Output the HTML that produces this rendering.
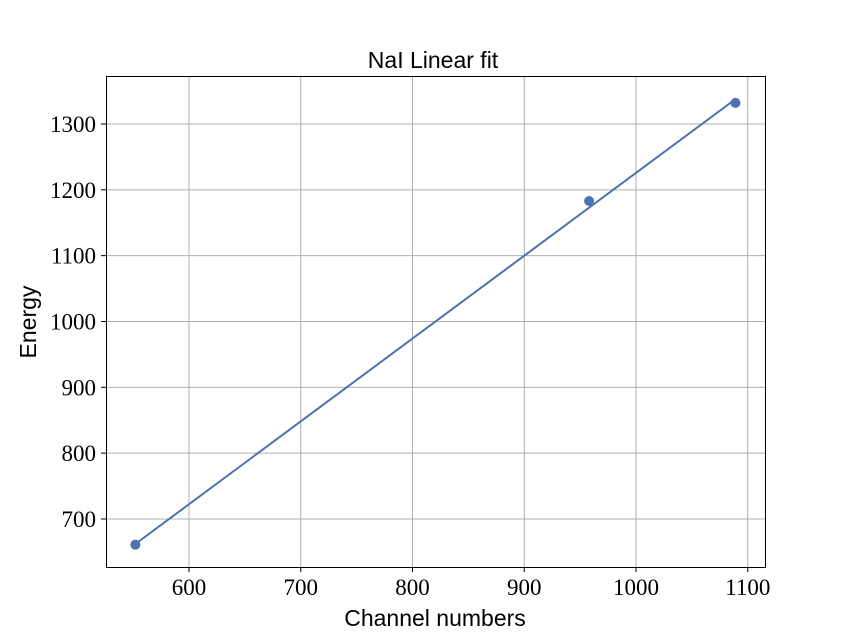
<!DOCTYPE html>
<html><head><meta charset="utf-8"><style>
body{margin:0;background:#fff;}
svg text{fill:#000;}
.tick{font-family:"Liberation Serif",serif;font-size:23px;}
.lab{font-family:"Liberation Sans",sans-serif;font-size:23px;}
</style></head><body>
<svg id="chart" width="850" height="637" xmlns="http://www.w3.org/2000/svg">
<g id="grid"></g>
<g id="ticks"></g>
<g id="series"></g>
<rect x="106.5" y="76.5" width="659" height="491" fill="none" stroke="#000" stroke-width="1"/>
<text class="lab" x="433" y="68" text-anchor="middle">NaI Linear fit</text>
<text class="lab" x="435" y="626" text-anchor="middle">Channel numbers</text>
<text class="lab" x="0" y="0" text-anchor="middle" transform="translate(36,322) rotate(-90)">Energy</text>
</svg>
<script>
const xTicks=[600,700,800,900,1000,1100];
const yTicks=[700,800,900,1000,1100,1200,1300];
const pointX=[552,958,1089];
const pointY=[661,1183,1332];
const lineX=[552,1090];
const lineY=[662,1339];
const sx=v=>189+(v-600)*1.1175;
const sy=v=>124+(1300-v)*0.6583;
const NS="http://www.w3.org/2000/svg";
function mk(t,a,p){const e=document.createElementNS(NS,t);for(const k in a)e.setAttribute(k,a[k]);p.appendChild(e);return e;}
const g=document.getElementById('grid'),tk=document.getElementById('ticks'),s=document.getElementById('series');
xTicks.forEach(v=>{const x=sx(v);
const l=mk('line',{x1:x,x2:x,y1:76,y2:567,stroke:'#b0b0b0','stroke-width':1},g);


const m=mk('line',{x1:x,x2:x,y1:567,y2:572,stroke:'#000'},tk);


const t=mk('text',{x:x,y:595,'text-anchor':'middle',class:'tick'},tk);t.textContent=v;

});
yTicks.forEach(v=>{const y=sy(v);
const l=mk('line',{x1:106,x2:765,y1:y,y2:y,stroke:'#b0b0b0','stroke-width':1},g);


const m=mk('line',{x1:101,x2:106,y1:y,y2:y,stroke:'#000'},tk);


const t=mk('text',{x:96,y:y+8,'text-anchor':'end',class:'tick'},tk);t.textContent=v;

});
const fl=mk('line',{x1:sx(lineX[0]),y1:sy(lineY[0]),x2:sx(lineX[1]),y2:sy(lineY[1]),stroke:'#4c72b0','stroke-width':2},s);


pointX.forEach((v,i)=>{const c=mk('circle',{cx:sx(v),cy:sy(pointY[i]),r:5,fill:'#4c72b0'},s);

});
</script>
</body></html>
